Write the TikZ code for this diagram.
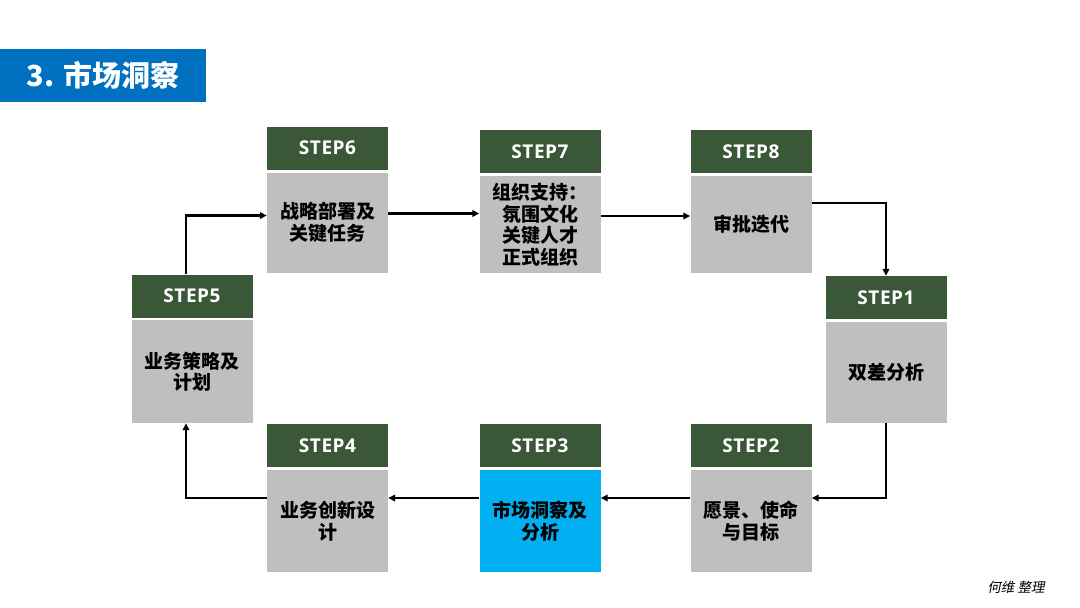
\documentclass[tikz,border=0pt]{standalone}
\usepackage{fontspec}
\usetikzlibrary{arrows.meta}
\newfontfamily\cjk{Noto Sans CJK SC}
\newfontfamily\cjkit{Noto Sans CJK SC}[FakeSlant=0.2]
\newfontfamily\stepfont{Open Sans}[LetterSpace=3]
\definecolor{titleblue}{HTML}{0070C0}
\definecolor{hdrgreen}{HTML}{3A5838}
\definecolor{bodygray}{HTML}{BFBFBF}
\definecolor{hiblue}{HTML}{00B0F0}
\tikzset{
  hdr/.style={rectangle, fill=hdrgreen, minimum width=121pt, minimum height=43pt, inner sep=0pt,
    text=white, font=\stepfont\bfseries\fontsize{19}{22}\selectfont},
  bodybox/.style={rectangle, fill=bodygray, minimum width=121pt, minimum height=100pt, inner sep=0pt,
    align=center, text=black, font=\cjk\bfseries\fontsize{19}{21.5}\selectfont},
  arr/.style={draw=black, line width=2.2pt, -{Triangle[length=7pt,width=6.5pt]}}
}
\begin{document}
\begin{tikzpicture}[x=1pt,y=-1pt]
\useasboundingbox (0,0) rectangle (1080,608);
\fill[white] (0,0) rectangle (1080,608);
% title
\node[rectangle, fill=titleblue, minimum width=206pt, minimum height=53pt, inner sep=0pt,
  text=white, font=\cjk\bfseries\fontsize{29}{32}\selectfont] (title) at (103,75.5) {3. 市场洞察};
% top row
\node[hdr] (h6) at (327.5,148) {STEP6};
\node[bodybox] (b6) at (327.5,222.5) {战略部署及\\关键任务};
\node[hdr] (h7) at (540,151.5) {STEP7};
\node[bodybox, minimum height=97pt] (b7) at (540,224.5) {组织支持：\\氛围文化\\关键人才\\正式组织};
\node[hdr] (h8) at (751,151.5) {STEP8};
\node[bodybox, minimum height=97pt] (b8) at (751,224.5) {审批迭代};
% middle row
\node[hdr] (h5) at (192,296) {STEP5};
\node[bodybox, minimum height=103pt] (b5) at (192,371.5) {业务策略及\\计划};
\node[hdr] (h1) at (886,297.5) {STEP1};
\node[bodybox, minimum height=101pt] (b1) at (886,372.5) {双差分析};
% bottom row
\node[hdr] (h4) at (327.5,445.5) {STEP4};
\node[bodybox, minimum height=102pt] (b4) at (327.5,521) {业务创新设\\计};
\node[hdr] (h3) at (540,445.5) {STEP3};
\node[bodybox, minimum height=102pt, fill=hiblue] (b3) at (540,521) {市场洞察及\\分析};
\node[hdr] (h2) at (751,445.5) {STEP2};
\node[bodybox, minimum height=102pt] (b2) at (751,521) {愿景、使命\\与目标};
% connectors
\draw[arr] ([xshift=-6pt]h5.north) |- ([yshift=7pt]b6.west);
\draw[arr] ([yshift=9pt]b6.east) -- ([yshift=9pt]b6.east -| b7.west);
\draw[arr] ([yshift=8.5pt]b7.east) -- ([yshift=8.5pt]b7.east -| b8.west);
\draw[arr] ([yshift=21.5pt]b8.east) -| (h1.north);
\draw[arr] (b1.south) |- ([yshift=23pt]b2.east);
\draw[arr] ([yshift=23pt]b2.west) -- ([yshift=23pt]b2.west -| b3.east);
\draw[arr] ([yshift=23pt]b3.west) -- ([yshift=23pt]b3.west -| b4.east);
\draw[arr] ([yshift=23pt]b4.west) -| ([xshift=-6pt]b5.south);
% footer
\node[inner sep=0pt, text=black, font=\cjkit\fontsize{13.5}{15}\selectfont] (credit) at (1016,587) {何维 整理};
\end{tikzpicture}
\end{document}
